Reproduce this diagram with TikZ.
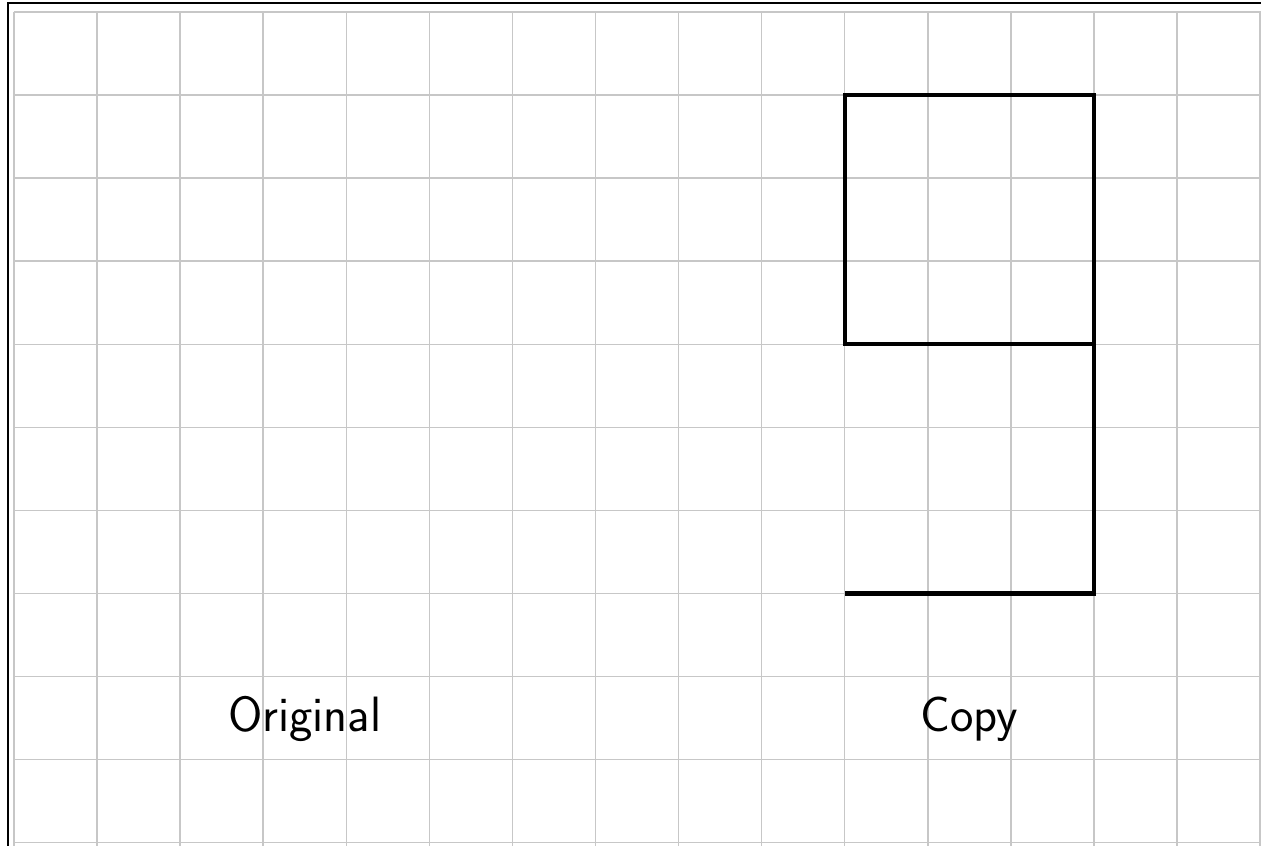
\documentclass[tikz,border=0pt]{standalone}
\begin{document}
\begin{tikzpicture}[
  gridline/.style={draw=black!22, line width=0.5pt},
  shapeline/.style={draw=black, line width=1.4pt, line join=miter},
  label/.style={font=\sffamily\fontsize{17}{20}\selectfont, anchor=base, inner sep=0pt}
]
\useasboundingbox (-0.1685,0.1444) rectangle (15.011,-10.036);
\begin{scope}
\clip (-0.1685,0.1444) rectangle (15.011,-10.036);
\draw[gridline] (0,-11) grid[step=1] (15.5,0);
\draw[black, line width=0.75pt] (-0.072,-11) -- (-0.072,0.108) -- (16,0.108);
\end{scope}
\coordinate (a) at (13,-4);
\coordinate (b) at (10,-4);
\coordinate (c) at (10,-1);
\coordinate (d) at (13,-1);
\coordinate (e) at (13,-7);
\coordinate (f) at (10,-7);
\draw[shapeline] (a) -- (b) -- (c) -- (d) -- (e) -- (f);
\node[label] (orig) at (3.5,-8.66) {Original};
\node[label] (copy) at (11.5,-8.66) {Copy};
\end{tikzpicture}
\end{document}
